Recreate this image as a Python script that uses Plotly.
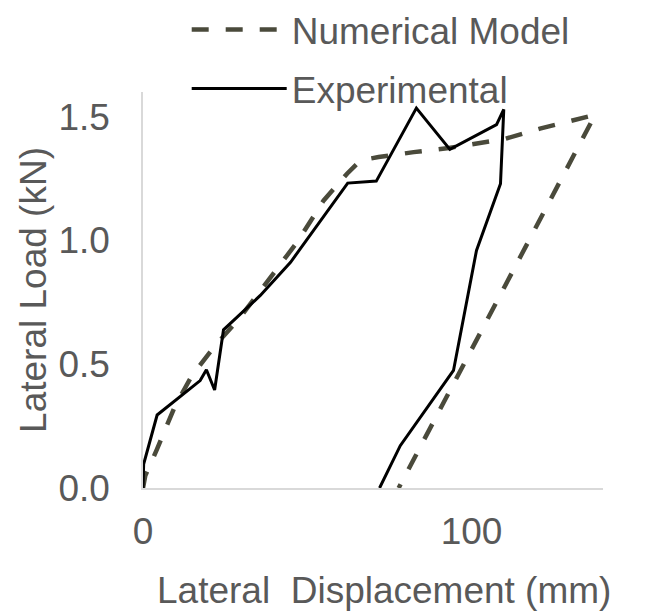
import plotly.graph_objects as go

# Numerical model (dashed)
num_x = [0, 0.7, 4.3, 9.8, 14.9, 22.0, 29.6, 46.9, 55.0, 62.1, 66.2, 71.7, 82.4, 93.1, 110.0, 120.8, 137.6, 77.8]
num_y = [0, 0.05, 0.158, 0.333, 0.454, 0.576, 0.69, 0.993, 1.162, 1.27, 1.324, 1.337, 1.357, 1.374, 1.41, 1.452, 1.508, 0]

# Experimental (solid)
exp_x = [0, 0.2, 4.3, 17.4, 19.3, 21.8, 24.5, 35.7, 44.9, 62.3, 71.0, 83.2, 93.4, 107.6, 109.8, 108.8, 101.5, 94.5, 78.3, 72.0]
exp_y = [0, 0.097, 0.295, 0.434, 0.478, 0.396, 0.639, 0.778, 0.912, 1.232, 1.240, 1.535, 1.368, 1.468, 1.530, 1.229, 0.960, 0.475, 0.171, 0]

x_ticks = [0, 100]
y_ticks = [0.0, 0.5, 1.0, 1.5]

FONT = "Liberation Sans, Arial, sans-serif"
GRAY = "#595959"

fig = go.Figure()
fig.add_trace(go.Scatter(
    x=num_x, y=num_y, mode="lines", name="Numerical Model",
    line=dict(color="#4a4a3b", width=4.5, dash="17px,17px"),
    legendgroup="num",
))
fig.add_trace(go.Scatter(
    x=exp_x, y=exp_y, mode="lines", name="Experimental",
    line=dict(color="#000000", width=3),
    legendgroup="exp",
))

# page has an 8px body margin; figure is sized so the plot lands where the reference has it
fig.update_layout(
    width=647, height=606,
    margin=dict(l=135, r=52, t=84, b=126, autoexpand=False),
    paper_bgcolor="white", plot_bgcolor="white",
    font=dict(family=FONT, size=37, color=GRAY),
    showlegend=True,
    legend=dict(x=0.095, y=1.235, xanchor="left", yanchor="top",
                font=dict(size=37, color=GRAY), itemwidth=95,
                tracegroupgap=8, traceorder="grouped",
                bgcolor="rgba(0,0,0,0)"),
    xaxis=dict(range=[0, 140], tickvals=x_ticks, ticktext=[str(v) for v in x_ticks],
               showline=True, linecolor="#d9d9d9", linewidth=1.5,
               showgrid=False, zeroline=False, ticks="", ticklabelstandoff=10,
               tickfont=dict(size=37, color=GRAY)),
    yaxis=dict(range=[0, 1.6], tickvals=y_ticks, ticktext=[f"{v:.1f}" for v in y_ticks],
               showline=True, linecolor="#d9d9d9", linewidth=1.5,
               showgrid=False, zeroline=False, ticks="", ticklabelstandoff=24,
               tickfont=dict(size=37, color=GRAY)),
    annotations=[
        dict(text="Lateral\u00a0 Displacement (mm)", xref="paper", yref="paper",
             x=0.5246, y=-0.2596, xanchor="center", yanchor="middle",
             showarrow=False, font=dict(size=37, color=GRAY)),
        dict(text="Lateral Load (kN)", xref="paper", yref="paper",
             x=-0.2385, y=0.501, xanchor="center", yanchor="middle", textangle=-90,
             showarrow=False, font=dict(size=37, color=GRAY)),
    ],
)

fig.write_html("out.html")
